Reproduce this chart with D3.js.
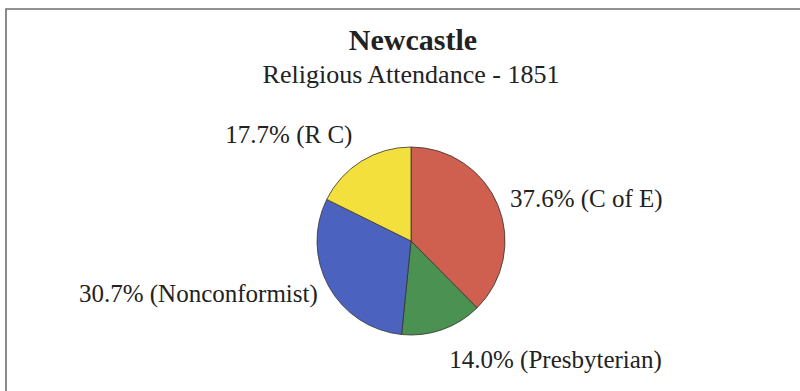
<!DOCTYPE html>
<html>
<head>
<meta charset="utf-8">
<script src="https://cdn.jsdelivr.net/npm/d3@7"></script>
<style>
  body { margin: 0; background: #fff; }
  text { font-family: "Liberation Serif", "Times New Roman", serif; fill: #222; }
</style>
</head>
<body>
<div id="chart-area"></div>
<script>
// data
var categories = ["C of E", "Presbyterian", "Nonconformist", "R C"];
var shares = [37.6, 14.0, 30.7, 17.7];
var sliceColors = ["#cf604f", "#4b9152", "#4c62bf", "#f3e03c"];

var completeWidth = 800,
	completeHeight = 391;

var svg = d3.select("#chart-area")
	.append("svg")
		.attr("width", completeWidth)
		.attr("height", completeHeight);

// frame (only top + left edges show in the picture)
svg.append("path")
	.attr("d", "M6,391 L6,9 L800,9")
	.attr("fill", "none")
	.attr("stroke", "#6e6e6e")
	.attr("stroke-width", 1.6);

// titles
svg.append("text")
	.attr("x", 413)
	.attr("y", 50)
	.attr("text-anchor", "middle")
	.attr("font-size", "30px")
	.attr("font-weight", "bold")
	.text("Newcastle");
svg.append("text")
	.attr("x", 411)
	.attr("y", 83)
	.attr("text-anchor", "middle")
	.attr("font-size", "26px")
	.text("Religious Attendance - 1851");

// pie
var cx = 411, cy = 241, radius = 94;
var g = svg.append("g")
	.attr("transform", "translate(" + cx + "," + cy + ")");

var pie = d3.pie().sort(null).value(function(d){ return d; });
var arcs = pie(shares);

var arc = d3.arc().innerRadius(0).outerRadius(radius);
var edgeArc = d3.arc().innerRadius(radius).outerRadius(radius);

var color = d3.scaleOrdinal().domain(categories).range(sliceColors);

g.selectAll("path.slice")
	.data(arcs)
	.enter().append("path")
		.attr("class", "slice")
		.attr("d", arc)
		.attr("fill", function(d, i){ return color(categories[i]); })
		.attr("stroke", "#333")
		.attr("stroke-width", 0.8);

//= label nudges from the slice's edge midpoint (excel "best fit" look)
var nudge = {
	"C of E": [12, 2, "start"],
	"Presbyterian": [7, 38, "start"],
	"Nonconformist": [-11, 15, "end"],
	"R C": [-9, -18, "end"]
};

g.selectAll("text.lbl")
	.data(arcs)
	.enter().append("text")
		.attr("class", "lbl")
		.attr("font-size", "25px")
		.attr("x", function(d, i){ return edgeArc.centroid(d)[0] + nudge[categories[i]][0]; })
		.attr("y", function(d, i){ return edgeArc.centroid(d)[1] + nudge[categories[i]][1]; })
		.attr("text-anchor", function(d, i){ return nudge[categories[i]][2]; })
		.text(function(d, i){ return d3.format(".1f")(shares[i]) + "% (" + categories[i] + ")"; });
</script>
</body>
</html>
